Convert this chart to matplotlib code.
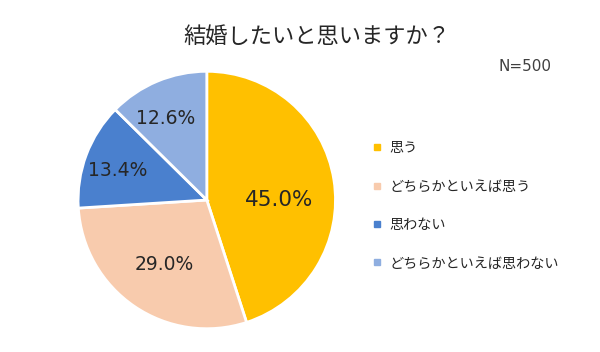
import matplotlib
matplotlib.use("Agg")
import matplotlib.pyplot as plt
import numpy as np
from matplotlib.lines import Line2D

plt.rcParams['font.family'] = ['Noto Sans CJK JP', 'DejaVu Sans']

title = "結婚したいと思いますか？"
note = "N=500"
categories = ["思う", "どちらかといえば思う", "思わない", "どちらかといえば思わない"]
values = [45.0, 29.0, 13.4, 12.6]
colors = ["#FFC000", "#F8CBAD", "#4A80CE", "#8FAEE0"]

fig = plt.figure(figsize=(6.0, 3.52), dpi=100)
fig.patch.set_facecolor("white")
ax = fig.add_axes([0.128, 0.0625, 0.4333, 0.7386])

wedges, texts, autotexts = ax.pie(
    values, colors=colors, startangle=90, counterclock=False,
    autopct=lambda p: f"{p:.1f}%", pctdistance=0.6,
    wedgeprops=dict(edgecolor="white", linewidth=2),
    textprops=dict(color="#262626", fontsize=13.5, family="DejaVu Sans"))
ax.set_xlim(-1.01, 1.01)
ax.set_ylim(-1.01, 1.01)
ax.set_aspect("equal")

# label placement (distance from centre and angular nudge, Excel best-fit style)
label_dist = [0.56, 0.6, 0.73, 0.71]
label_shift = [-9, 1, 2, 4]
for w, t, d, s in zip(wedges, autotexts, label_dist, label_shift):
    ang = np.deg2rad((w.theta1 + w.theta2) / 2 + s)
    t.set_position((d * np.cos(ang), d * np.sin(ang)))
autotexts[0].set_fontsize(15.5)

fig.text(0.528, 0.897, title, ha="center", va="center", fontsize=16, color="#262626")
fig.text(0.875, 0.81, note, ha="center", va="center", fontsize=11, color="#404040",
         family="DejaVu Sans")

handles = [Line2D([0], [0], marker="s", linestyle="none", markersize=5,
                  markerfacecolor=c, markeredgecolor=c) for c in colors]
fig.legend(handles, categories, loc="upper left", bbox_to_anchor=(0.6, 0.635),
           frameon=False, fontsize=10.2, handlelength=0.6, handletextpad=0.55,
           labelspacing=1.72, labelcolor="#262626")

fig.savefig("out.png", dpi=100, facecolor="white")
